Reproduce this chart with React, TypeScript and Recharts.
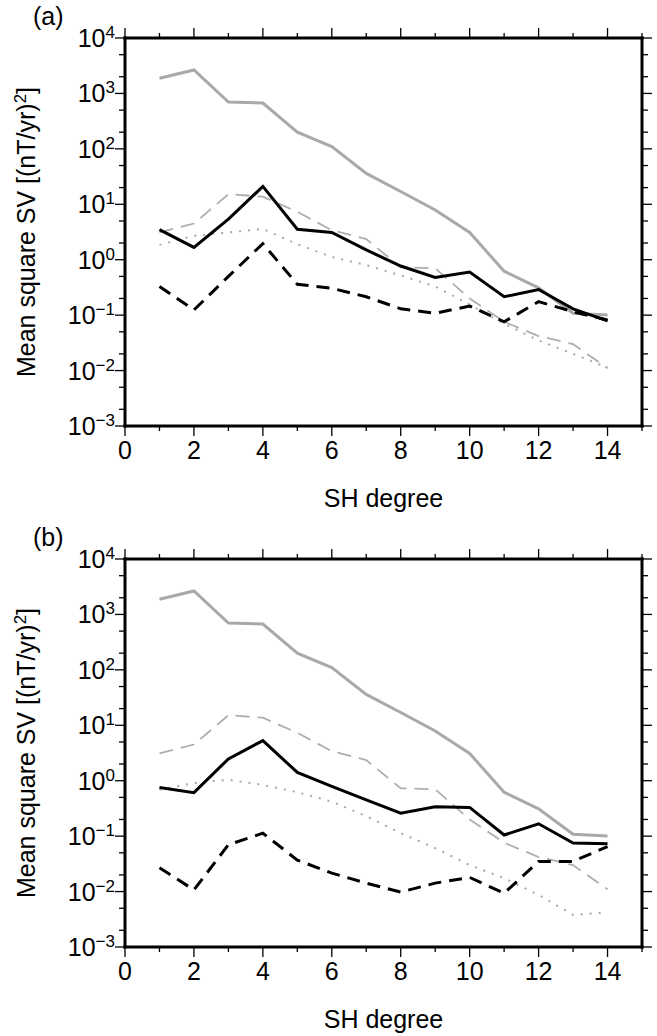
import React from 'react';
import { LineChart, Line, XAxis, YAxis } from 'recharts';

// SH degree
const degrees = [1, 2, 3, 4, 5, 6, 7, 8, 9, 10, 11, 12, 13, 14];

// shared gray curves (both panels)
const grayModel = [1880, 2650, 700, 670, 200, 110, 36, 17, 7.9, 3.1, 0.62, 0.31, 0.108, 0.101];
const grayDashed = [3.1, 4.5, 15.2, 13.7, 7.3, 3.4, 2.35, 0.73, 0.7, 0.2, 0.076, 0.042, 0.03, 0.011];

// panel (a)
const grayDottedA = [1.85, 2.7, 3.1, 3.6, 1.9, 1.12, 0.8, 0.52, 0.33, 0.155, 0.07, 0.035, 0.02, 0.0113];
const blackSolidA = [3.5, 1.67, 5.4, 21, 3.55, 3.1, 1.5, 0.77, 0.48, 0.6, 0.215, 0.29, 0.13, 0.079];
const blackDashedA = [0.33, 0.124, 0.5, 1.95, 0.36, 0.305, 0.215, 0.13, 0.108, 0.146, 0.076, 0.175, 0.115, 0.082];

// panel (b)
const grayDottedB = [0.69, 0.91, 1.04, 0.84, 0.62, 0.42, 0.23, 0.113, 0.061, 0.03, 0.0175, 0.0087, 0.0038, 0.0042];
const blackSolidB = [0.755, 0.61, 2.48, 5.3, 1.41, 0.79, 0.45, 0.26, 0.34, 0.33, 0.105, 0.167, 0.075, 0.073];
const blackDashedB = [0.027, 0.0107, 0.07, 0.113, 0.037, 0.0215, 0.0142, 0.0098, 0.0142, 0.018, 0.0093, 0.035, 0.035, 0.065];

// ticks
const xTicks = [0, 1, 2, 3, 4, 5, 6, 7, 8, 9, 10, 11, 12, 13, 14, 15];
const yMajor = [1e-3, 1e-2, 1e-1, 1, 10, 100, 1000, 10000];
const yMinor = [2e-3, 5e-3, 2e-2, 5e-2, 0.2, 0.5, 2, 5, 20, 50, 200, 500, 2000, 5000];
const yTicks = [...yMajor, ...yMinor].sort((a, b) => a - b);

const FONT = '"Liberation Sans", Arial, Helvetica, sans-serif';

function buildRows(dotted: number[], solid: number[], dashed: number[]) {
  return degrees.map((d, i) => ({
    deg: d,
    gs: grayModel[i],
    gd: grayDashed[i],
    gt: dotted[i],
    bs: solid[i],
    bd: dashed[i],
  }));
}

const rowsA = buildRows(grayDottedA, blackSolidA, blackDashedA);
const rowsB = buildRows(grayDottedB, blackSolidB, blackDashedB);

const TL = { stroke: '#000', strokeWidth: 1.3 };

const isDecade = (v: number) => {
  const l = Math.log10(v);
  return Math.abs(l - Math.round(l)) < 1e-6;
};

const LeftTick = (props: any) => {
  const { x, y, payload } = props;
  const v = payload.value;
  const major = isDecade(v);
  const len = major ? 10 : 6;
  if (!major) {
    return <line x1={x - len} x2={x} y1={y} y2={y} {...TL} />;
  }
  const exp = Math.round(Math.log10(v));
  const expStr = exp < 0 ? '\u2212' + Math.abs(exp) : String(exp);
  return (
    <g>
      <line x1={x - len} x2={x} y1={y} y2={y} {...TL} />
      <text x={x - 10} y={y + 9} textAnchor="end" fontFamily={FONT} fontSize={25} fill="#000">
        10
        <tspan dy={-9} fontSize={17}>
          {expStr}
        </tspan>
      </text>
    </g>
  );
};

const RightTick = (props: any) => {
  const { x, y, payload } = props;
  const len = isDecade(payload.value) ? 10 : 6;
  return <line x1={x} x2={x + len} y1={y} y2={y} {...TL} />;
};

const BottomTick = (props: any) => {
  const { x, y, payload } = props;
  const v = payload.value;
  const major = v % 2 === 0;
  const len = major ? 10 : 5;
  return (
    <g>
      <line x1={x} x2={x} y1={y} y2={y + len} {...TL} />
      {major && (
        <text x={x} y={y + 33} textAnchor="middle" fontFamily={FONT} fontSize={25} fill="#000">
          {v}
        </text>
      )}
    </g>
  );
};

const TopTick = (props: any) => {
  const { x, y, payload } = props;
  const len = payload.value % 2 === 0 ? 10 : 5;
  return <line x1={x} x2={x} y1={y} y2={y - len} {...TL} />;
};

const PanelLabel = (props: any) => {
  const { viewBox, letter } = props;
  const cy = viewBox.y + viewBox.height / 2;
  const bx = 34.5;
  return (
    <g>
      <text x={33} y={viewBox.y - 13} fontFamily={FONT} fontSize={25} fill="#000">
        ({letter})
      </text>
      <text
        transform={`rotate(-90 ${bx} ${cy})`}
        x={bx}
        y={cy}
        textAnchor="middle"
        fontFamily={FONT}
        fontSize={25}
        fill="#000"
      >
        Mean square SV [(nT/yr)
        <tspan dy={-9} fontSize={17}>
          2
        </tspan>
        <tspan dy={9}>]</tspan>
      </text>
    </g>
  );
};

const XLabel = (props: any) => {
  const { viewBox } = props;
  return (
    <text
      x={viewBox.x + viewBox.width / 2}
      y={viewBox.y + 80.5}
      textAnchor="middle"
      fontFamily={FONT}
      fontSize={25}
      fill="#000"
    >
      SH degree
    </text>
  );
};

const axisLine = { stroke: '#000', strokeWidth: 3, strokeLinecap: 'square' as const };

function Panel({ letter, rows, height, bottom }: { letter: string; rows: any[]; height: number; bottom: number }) {
  return (
    <LineChart width={657} height={height} data={rows} margin={{ top: 37, right: 14, bottom, left: 124 }}>
      <XAxis
        xAxisId="main"
        dataKey="deg"
        type="number"
        domain={[0, 15]}
        ticks={xTicks}
        interval={0}
        height={1}
        tickSize={0}
        tickMargin={0}
        axisLine={axisLine}
        tickLine={false}
        tick={<BottomTick />}
        allowDataOverflow
        label={<XLabel />}
      />
      <XAxis
        xAxisId="top"
        orientation="top"
        dataKey="deg"
        type="number"
        domain={[0, 15]}
        ticks={xTicks}
        interval={0}
        height={1}
        tickSize={0}
        tickMargin={0}
        axisLine={axisLine}
        tickLine={false}
        tick={<TopTick />}
        allowDataOverflow
      />
      <YAxis
        yAxisId="main"
        type="number"
        scale="log"
        domain={[1e-3, 1e4]}
        ticks={yTicks}
        interval={0}
        width={1}
        tickSize={0}
        tickMargin={0}
        axisLine={axisLine}
        tickLine={false}
        tick={<LeftTick />}
        allowDataOverflow
        label={<PanelLabel letter={letter} />}
      />
      <YAxis
        yAxisId="right"
        orientation="right"
        type="number"
        scale="log"
        domain={[1e-3, 1e4]}
        ticks={yTicks}
        interval={0}
        width={1}
        tickSize={0}
        tickMargin={0}
        axisLine={axisLine}
        tickLine={false}
        tick={<RightTick />}
        allowDataOverflow
      />
      <Line xAxisId="main" yAxisId="main" dataKey="gs" type="linear" stroke="#a9a9a9" strokeWidth={3} dot={false} isAnimationActive={false} />
      <Line xAxisId="main" yAxisId="main" dataKey="gd" type="linear" stroke="#aeaeae" strokeWidth={1.8} strokeDasharray="14 8" dot={false} isAnimationActive={false} />
      <Line xAxisId="main" yAxisId="main" dataKey="gt" type="linear" stroke="#a8a8a8" strokeWidth={2} strokeDasharray="2 7" dot={false} isAnimationActive={false} />
      <Line xAxisId="main" yAxisId="main" dataKey="bs" type="linear" stroke="#000" strokeWidth={3} dot={false} isAnimationActive={false} />
      <Line xAxisId="main" yAxisId="main" dataKey="bd" type="linear" stroke="#000" strokeWidth={3} strokeDasharray="13 8" dot={false} isAnimationActive={false} />
    </LineChart>
  );
}

export default function App() {
  return (
    <div style={{ position: 'absolute', left: 0, top: 0, width: 657, height: 1036, background: '#fff' }}>
      <div style={{ position: 'absolute', left: 0, top: 0 }}>
        <Panel letter="a" rows={rowsA} height={521} bottom={94} />
      </div>
      <div style={{ position: 'absolute', left: 0, top: 521 }}>
        <Panel letter="b" rows={rowsB} height={515} bottom={88} />
      </div>
    </div>
  );
}
